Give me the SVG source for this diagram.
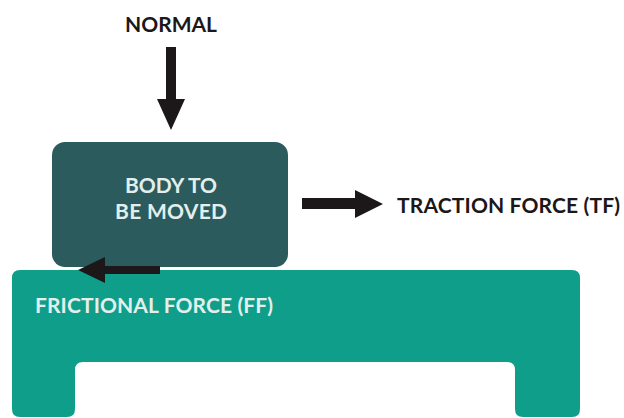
<svg xmlns="http://www.w3.org/2000/svg" width="624" height="418" viewBox="0 0 624 418">
  <style>
    .lbl { font-family: Lato, "Liberation Sans", sans-serif; font-weight: bold; font-size: 21px; }
    .dark { fill: #1c1718; }
    .light { fill: #e2efec; }
    .arrow { fill: #1c1718; }
  </style>
  <rect width="624" height="418" fill="#ffffff"/>
  <g id="table">
    <path d="M20,270 H572 Q580,270 580,278 V409 Q580,417 572,417 H523 Q515,417 515,409 V370 Q515,362 507,362 H83 Q75,362 75,370 V409 Q75,417 67,417 H20 Q12,417 12,409 V278 Q12,270 20,270 Z" fill="#0f9e89"/>
    <text class="lbl light" x="35" y="313" textLength="238" fill="#d8f1ec">FRICTIONAL FORCE (FF)</text>
  </g>
  <g id="body">
    <rect x="52" y="142" width="236" height="125" rx="13" fill="#2b5b5d"/>
    <text class="lbl light" x="125" y="193" textLength="92">BODY TO</text>
    <text class="lbl light" x="115" y="219" textLength="112">BE MOVED</text>
  </g>
  <g id="normal-label">
    <text class="lbl dark" x="125" y="32" textLength="92">NORMAL</text>
  </g>
  <g id="traction-label">
    <text class="lbl dark" x="397" y="213" textLength="223">TRACTION FORCE (TF)</text>
  </g>
  <g id="connectors">
    <path class="arrow" d="M166,47 H176 V99 H185 L171,130 L157,99 H166 Z"/>
    <path class="arrow" d="M302,198 H355 V190 L383,204 L355,218 V209 H302 Z"/>
    <path class="arrow" d="M160,266 H105 V257 L78,270 L105,283 V274 H160 Z"/>
  </g>
</svg>
